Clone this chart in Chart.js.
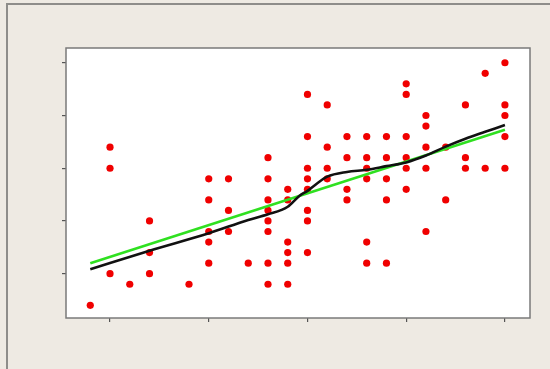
<!DOCTYPE html>
<html>
<head>
<meta charset="utf-8">
<script src="https://cdn.jsdelivr.net/npm/chart.js@4/dist/chart.umd.min.js"></script>
<style>
  html, body { margin: 0; padding: 0; background: #eeeae3; }
  #wrap { position: relative; width: 550px; height: 369px; overflow: hidden; }
  #frame {
    position: absolute; left: 6px; top: 3px; right: 0; bottom: 0;
    border-left: 2px solid #8e8d8a; border-top: 2px solid #8e8d8a;
  }
  #chart { position: absolute; left: 0; top: 0; }
</style>
</head>
<body>
<div id="wrap">
  <div id="frame"></div>
  <canvas id="chart" width="550" height="369"></canvas>
</div>
<script>
'use strict';

// observed points: x column and y value
const dotX = [
  -1,
  0, 0, 0,
  1,
  2, 2, 2,
  4,
  5, 5, 5, 5, 5,
  6, 6, 6,
  7,
  8, 8, 8, 8, 8, 8, 8, 8,
  9, 9, 9, 9, 9, 9,
  10, 10, 10, 10, 10, 10, 10, 10,
  11, 11, 11, 11,
  12, 12, 12, 12,
  13, 13, 13, 13, 13, 13,
  14, 14, 14, 14, 14,
  15, 15, 15, 15, 15, 15,
  16, 16, 16, 16, 16,
  17, 17,
  18, 18, 18,
  19, 19,
  20, 20, 20, 20, 20,
];
const dotY = [
  -3,
  12, 10, 0,
  -1,
  5, 2, 0,
  -1,
  9, 7, 4, 3, 1,
  9, 6, 4,
  1,
  11, 9, 7, 6, 5, 4, 1, -1,
  8, 7, 3, 2, 1, -1,
  17, 13, 10, 9, 8, 6, 5, 2,
  16, 12, 10, 9,
  13, 11, 8, 7,
  13, 11, 10, 9, 3, 1,
  13, 11, 9, 7, 1,
  18, 17, 13, 11, 10, 8,
  15, 14, 12, 10, 4,
  12, 7,
  16, 11, 10,
  19, 10,
  20, 16, 15, 13, 10,
];

// linear fit (green)
const fitX = [-1, 20];
const fitY = [1.0, 13.65];

// smooth fit (black)
const smoothX = [-1, 2, 5, 7, 8, 9, 9.6, 10, 10.5, 11, 12, 13, 14, 15, 16, 17, 18, 19, 20];
const smoothY = [0.42, 2.18, 3.83, 5.1, 5.63, 6.35, 7.4, 7.85, 8.57, 9.2, 9.65, 9.85, 10.2, 10.55, 11.2, 12.05, 12.8, 13.45, 14.1];

const xTicks = [0, 5, 10, 15, 20];
const yTicks = [0, 5, 10, 15, 20];

function pts(xs, ys) {
  return xs.map((x, i) => ({ x, y: ys[i] }));
}

const plotFrame = {
  id: 'plotFrame',
  beforeDraw(c) {
    const a = c.chartArea;
    const ctx = c.ctx;
    ctx.save();
    ctx.fillStyle = '#ffffff';
    ctx.fillRect(a.left, a.top, a.right - a.left, a.bottom - a.top);
    ctx.restore();
  },
  afterDraw(c) {
    const a = c.chartArea;
    const ctx = c.ctx;
    ctx.save();
    ctx.strokeStyle = '#7a7a7a';
    ctx.lineWidth = 1.5;
    ctx.strokeRect(a.left, a.top, a.right - a.left, a.bottom - a.top);
    ctx.restore();
  },
};

const axisCommon = {
  grid: { drawOnChartArea: false, drawTicks: true, tickLength: 4, color: '#555555', lineWidth: 1.2 },
  border: { display: false },
  ticks: { display: false },
};

new Chart(document.getElementById('chart').getContext('2d'), {
  type: 'scatter',
  data: {
    datasets: [
      {
        label: 'smooth',
        data: pts(smoothX, smoothY),
        showLine: true,
        borderColor: '#111111',
        borderWidth: 2.6,
        pointRadius: 0,
        tension: 0.35,
        cubicInterpolationMode: 'monotone',
      },
      {
        label: 'linear',
        data: pts(fitX, fitY),
        showLine: true,
        borderColor: '#2fe020',
        borderWidth: 2.6,
        pointRadius: 0,
      },
      {
        label: 'data',
        data: pts(dotX, dotY),
        backgroundColor: '#f00000',
        borderWidth: 0,
        pointRadius: 3.6,
      },
    ],
  },
  options: {
    responsive: false,
    animation: false,
    events: [],
    layout: { padding: { left: 62, top: 48, right: 20, bottom: 46 } },
    plugins: { legend: { display: false }, tooltip: { enabled: false } },
    scales: {
      x: {
        ...axisCommon,
        type: 'linear',
        min: -2.23,
        max: 21.27,
        afterBuildTicks: s => { s.ticks = xTicks.map(v => ({ value: v })); },
        afterFit: s => { s.height = 5; },
      },
      y: {
        ...axisCommon,
        type: 'linear',
        min: -4.2,
        max: 21.4,
        afterBuildTicks: s => { s.ticks = yTicks.map(v => ({ value: v })); },
        afterFit: s => { s.width = 4; },
      },
    },
  },
  plugins: [plotFrame],
});
</script>
</body>
</html>
